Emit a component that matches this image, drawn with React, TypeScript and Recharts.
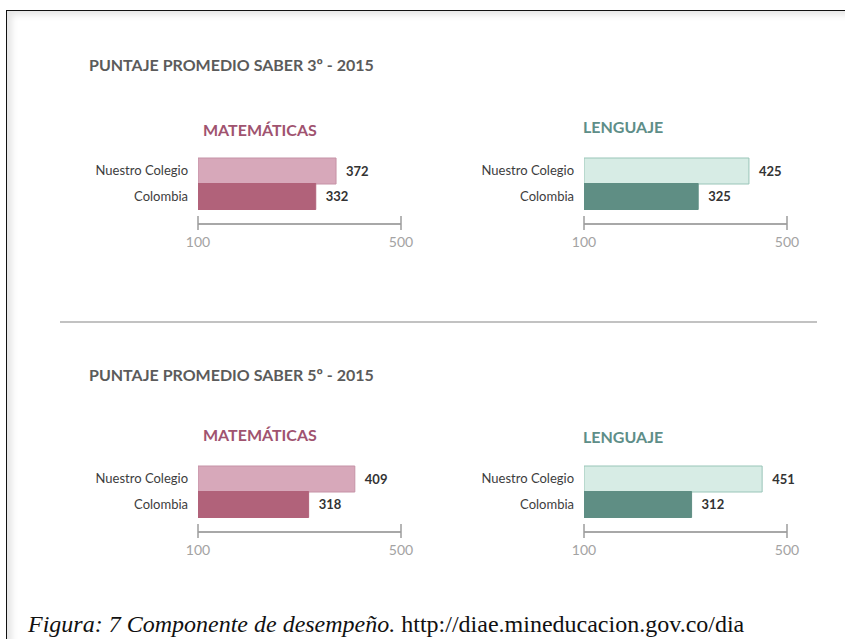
import React from 'react'
import { BarChart, Bar, XAxis, YAxis, Cell, LabelList } from 'recharts'

const categories = ['Nuestro Colegio', 'Colombia']
const mat3 = [372, 332]
const len3 = [425, 325]
const mat5 = [409, 318]
const len5 = [451, 312]
const axisTicks = [100, 500]
const sectionTitles = ['PUNTAJE PROMEDIO SABER 3º - 2015', 'PUNTAJE PROMEDIO SABER 5º - 2015']
const subjects = ['MATEMÁTICAS', 'LENGUAJE']

const PINK = { light: '#d7a8ba', lightStroke: '#c592a6', dark: '#b1627a', title: '#a0536f' }
const TEAL = { light: '#d7ece5', lightStroke: '#99c5b8', dark: '#5f8e84', title: '#5e8e88' }

const FONT = 'Lato, "Open Sans", sans-serif'

function EndTick(props: any) {
  const { x, y, payload } = props
  return (
    <g>
      <line x1={x} x2={x} y1={y - 8} y2={y + 6} stroke="#9c9c9c" strokeWidth={1.5} />
      <text x={x} y={y + 23} textAnchor="middle" fill="#a3a3a3" fontSize={14} fontFamily={FONT}>
        {payload.value}
      </text>
    </g>
  )
}

function ScoreChart({ values, palette, left, top }: { values: number[]; palette: typeof PINK; left: number; top: number }) {
  const data = categories.map((c, i) => ({ name: c, value: values[i] }))
  return (
    <div style={{ position: 'absolute', left, top }}>
      <BarChart
        width={361}
        height={112}
        layout="vertical"
        data={data}
        margin={{ top: 10, right: 20, bottom: 0, left: 0 }}
        barCategoryGap={0}
      >
        <XAxis
          type="number"
          domain={[100, 500]}
          ticks={axisTicks}
          interval={0}
          allowDataOverflow
          axisLine={{ stroke: '#a8a8a8', strokeWidth: 2 }}
          tickLine={false}
          tickSize={0}
          tickMargin={0}
          tick={<EndTick />}
          height={36}
        />
        <YAxis
          type="category"
          dataKey="name"
          width={138}
          axisLine={false}
          tickLine={false}
          tickSize={0}
          tickMargin={10}
          padding={{ top: 0, bottom: 15 }}
          tick={{ fill: '#3d3d3d', fontSize: 13, fontFamily: FONT }}
        />
        <Bar dataKey="value" isAnimationActive={false}>
          {data.map((d, i) => (
            <Cell
              key={d.name}
              fill={i === 0 ? palette.light : palette.dark}
              stroke={i === 0 ? palette.lightStroke : palette.dark}
              strokeWidth={1}
            />
          ))}
          <LabelList
            dataKey="value"
            position="right"
            offset={10}
            fill="#333"
            fontSize={13}
            fontWeight={700}
            fontFamily={FONT}
          />
        </Bar>
      </BarChart>
    </div>
  )
}

const textBase: React.CSSProperties = {
  position: 'absolute',
  fontFamily: FONT,
  fontWeight: 700,
  lineHeight: '20px',
  whiteSpace: 'nowrap',
}

export default function App() {
  return (
    <div
      style={{
        position: 'absolute',
        left: 0,
        top: 0,
        width: 845,
        height: 639,
        overflow: 'hidden',
        background: '#fff',
      }}
    >
      <div
        style={{
          position: 'absolute',
          left: 6,
          top: 10,
          width: 845,
          height: 640,
          borderTop: '1.5px solid #111',
          borderLeft: '1.5px solid #111',
          boxShadow: 'inset 5px 4px 6px rgba(0,0,0,0.10)',
        }}
      />

      {/* section 3º */}
      <div style={{ ...textBase, left: 89, top: 55, fontSize: 16, color: '#5b5b5b' }}>{sectionTitles[0]}</div>
      <div style={{ ...textBase, left: 203, top: 120, fontSize: 16, color: PINK.title }}>{subjects[0]}</div>
      <div style={{ ...textBase, left: 583, top: 117, fontSize: 16, color: TEAL.title }}>{subjects[1]}</div>
      <ScoreChart values={mat3} palette={PINK} left={60} top={148} />
      <ScoreChart values={len3} palette={TEAL} left={446} top={148} />

      <div style={{ position: 'absolute', left: 60, top: 321, width: 757, height: 2, background: '#c2c2c2' }} />

      {/* section 5º */}
      <div style={{ ...textBase, left: 89, top: 365, fontSize: 16, color: '#5b5b5b' }}>{sectionTitles[1]}</div>
      <div style={{ ...textBase, left: 203, top: 425, fontSize: 16, color: PINK.title }}>{subjects[0]}</div>
      <div style={{ ...textBase, left: 583, top: 427, fontSize: 16, color: TEAL.title }}>{subjects[1]}</div>
      <ScoreChart values={mat5} palette={PINK} left={60} top={456} />
      <ScoreChart values={len5} palette={TEAL} left={446} top={456} />

      <div
        style={{
          position: 'absolute',
          left: 28,
          top: 612,
          fontFamily: '"Liberation Serif", serif',
          fontSize: 24,
          lineHeight: '24px',
          color: '#111',
          whiteSpace: 'nowrap',
        }}
      >
        <i>Figura: 7 Componente de desempeño.</i> http://diae.mineducacion.gov.co/dia
      </div>
    </div>
  )
}
